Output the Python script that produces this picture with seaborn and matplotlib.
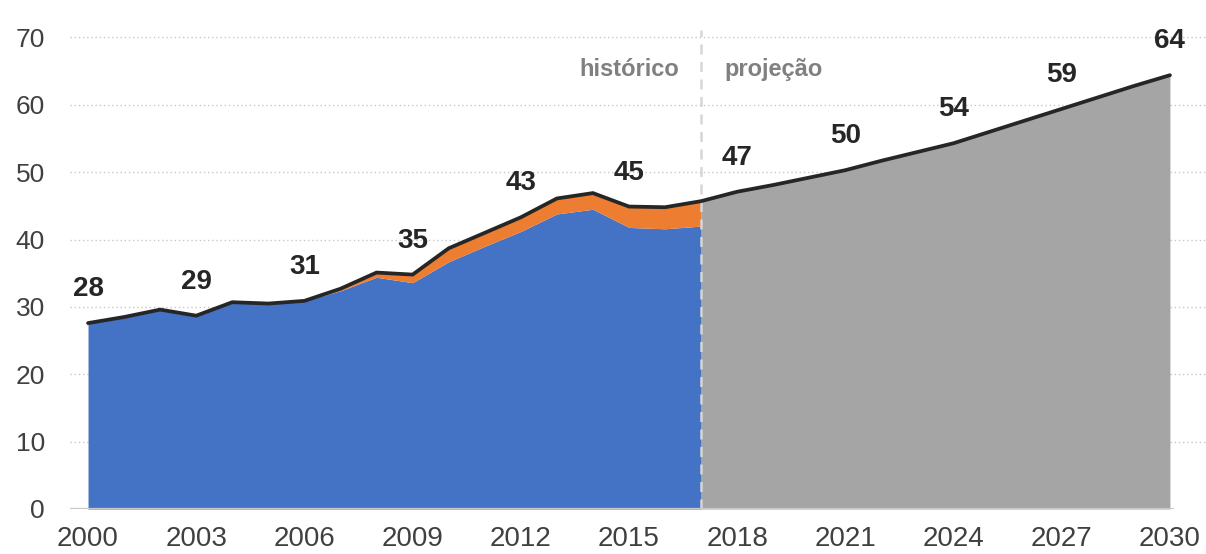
import numpy as np
import pandas as pd
import matplotlib
matplotlib.use("Agg")
import matplotlib.pyplot as plt
import seaborn as sns

# ---------------- data ----------------
hist_years = list(range(2000, 2018))
hist_total = [27.6, 28.5, 29.6, 28.7, 30.7, 30.5, 30.9, 32.7, 35.1, 34.8,
              38.7, 41.0, 43.3, 46.1, 46.9, 44.9, 44.8, 45.7]
hist_blue = [27.6, 28.5, 29.6, 28.7, 30.7, 30.5, 30.9, 32.4, 34.4, 33.6,
             36.7, 39.0, 41.2, 43.8, 44.5, 41.8, 41.6, 42.0]
proj_years = list(range(2017, 2031))
proj_total = [45.7, 47.1, 48.1, 49.2, 50.3, 51.7, 53.0, 54.3, 56.0, 57.7,
              59.4, 61.1, 62.8, 64.4]
label_years = [2000, 2003, 2006, 2009, 2012, 2015, 2018, 2021, 2024, 2027, 2030]
label_values = [28, 29, 31, 35, 43, 45, 47, 50, 54, 59, 64]
x_ticks = [2000, 2003, 2006, 2009, 2012, 2015, 2018, 2021, 2024, 2027, 2030]
y_ticks = [0, 10, 20, 30, 40, 50, 60, 70]

BLUE = "#4472C4"
ORANGE = "#ED7D31"
GRAY = "#A5A5A5"
DARK = "#262626"

sns.set_theme(style="white")
plt.rcParams["font.family"] = ["Liberation Sans", "DejaVu Sans"]

fig = plt.figure(figsize=(12.06, 5.54), dpi=100)
ax = fig.add_axes([70 / 1206, 45 / 554, 1 - 70 / 1206, 485 / 554])

# areas
ax.fill_between(hist_years, 0, hist_blue, color=BLUE, lw=0, zorder=1)
ax.fill_between(hist_years, hist_blue, hist_total, color=ORANGE, lw=0, zorder=1)
ax.fill_between(proj_years, 0, proj_total, color=GRAY, lw=0, zorder=1)

# dashed divider
ax.vlines(2017, 0, 71.1, colors="#d6d6d6", linestyles=(0, (4, 3)), lw=1.8, zorder=2)

# total line via seaborn
total_df = pd.DataFrame({
    "ano": hist_years + proj_years[1:],
    "total": hist_total + proj_total[1:],
})
sns.lineplot(data=total_df, x="ano", y="total", color=DARK, lw=2.7, ax=ax,
             zorder=3, solid_joinstyle="miter")

# value labels
lookup = dict(zip(total_df["ano"], total_df["total"]))
for yr, v in zip(label_years, label_values):
    ax.annotate(str(v), (yr, lookup[yr]), xytext=(0, 24.5), textcoords="offset points",
                ha="center", va="center", fontsize=20, fontweight="bold", color=DARK,
                annotation_clip=False, zorder=4)

# section texts
ax.annotate("histórico", (2017, 65.3), xytext=(-16, 0), textcoords="offset points",
            ha="right", va="center", fontsize=17, fontweight="bold", color="#808080")
ax.annotate("projeção", (2017, 65.3), xytext=(17, 0), textcoords="offset points",
            ha="left", va="center", fontsize=17, fontweight="bold", color="#808080")

# grid & axes
for yv in y_ticks[1:]:
    ax.axhline(yv, color="#c8c8c8", lw=1.0, ls=(0, (1, 2)), zorder=0)
ax.hlines(0, 1999.5, 2030.1, colors="#c8c8c8", lw=1.6, zorder=2)

ax.set_xlim(1999.5, 2031.0)
ax.set_ylim(0, 72)
ax.set_xticks(x_ticks)
ax.set_yticks(y_ticks)
ax.tick_params(axis="y", length=0, labelsize=19, labelcolor="#404040", pad=18)
ax.tick_params(axis="x", length=0, labelsize=20, labelcolor="#404040", pad=12)
ax.set_xlabel("")
ax.set_ylabel("")
for s in ax.spines.values():
    s.set_visible(False)
ax.grid(False)

fig.savefig("out.png", dpi=100)
